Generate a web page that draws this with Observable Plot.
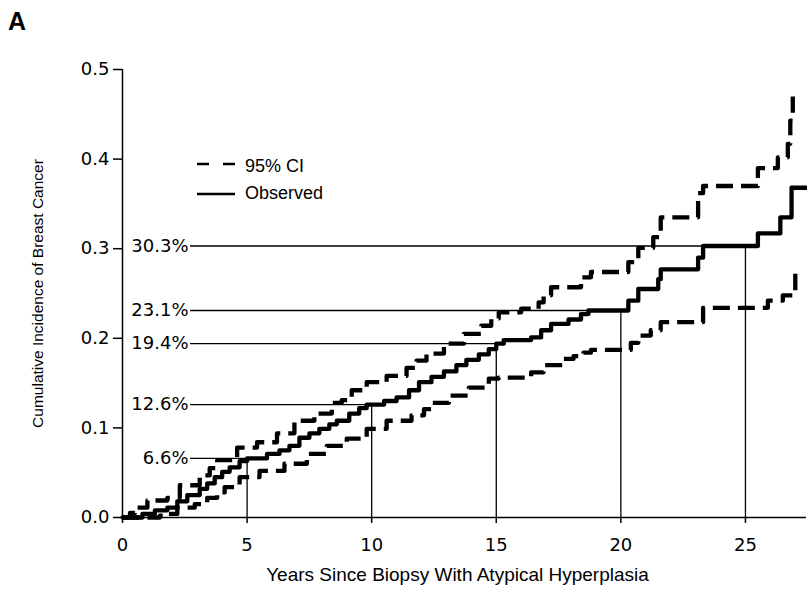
<!DOCTYPE html>
<html><head><meta charset="utf-8">
<script src="https://cdn.jsdelivr.net/npm/d3@7"></script>
<script src="https://cdn.jsdelivr.net/npm/@observablehq/plot@0.6"></script>
<style>body{margin:0;background:#fff;} #chart{width:807px;height:589px;}</style>
</head><body><div id="chart"></div>
<script>
// ---- data ----
const xTicks = [0, 5, 10, 15, 20, 25];
const yTicks = [0, 0.1, 0.2, 0.3, 0.4, 0.5];
const markYears = [5, 10, 15, 20, 25];
const markValues = [0.066, 0.126, 0.194, 0.231, 0.303];
const markLabels = ["6.6%", "12.6%", "19.4%", "23.1%", "30.3%"];

const obsT = [0,0.8,1.3,1.8,2.2,2.6,3.1,3.4,3.7,4.0,4.3,4.7,5.0,5.8,6.3,6.7,7.1,7.5,7.9,8.3,8.6,9.1,9.5,9.8,10.5,11.0,11.5,11.9,12.4,12.9,13.4,13.8,14.3,14.7,15.0,15.3,16.4,16.8,17.2,17.9,18.4,18.7,20.3,20.7,21.5,21.6,23.1,23.3,25.5,26.4,26.85,27.45];
const obsV = [0,0.004,0.008,0.011,0.018,0.025,0.032,0.038,0.045,0.051,0.056,0.063,0.066,0.071,0.075,0.080,0.089,0.094,0.099,0.104,0.108,0.116,0.122,0.126,0.130,0.134,0.142,0.151,0.157,0.163,0.170,0.176,0.182,0.188,0.194,0.198,0.201,0.209,0.216,0.221,0.227,0.231,0.242,0.255,0.266,0.277,0.290,0.303,0.317,0.335,0.368,0.368];

const upT = [0,0.3,0.5,1.0,1.8,2.3,3.1,3.5,3.8,4.6,5.4,6.2,6.9,7.7,8.4,8.8,9.2,9.8,10.6,11.4,11.8,12.2,12.9,13.7,14.4,14.8,15.1,16.0,16.7,16.9,17.2,18.4,18.8,20.3,20.7,21.3,21.6,23.1,23.3,25.5,26.3,26.7,26.8,26.9];
const upV = [0,0.005,0.011,0.019,0.022,0.036,0.047,0.055,0.064,0.078,0.084,0.094,0.108,0.116,0.128,0.131,0.142,0.151,0.158,0.167,0.175,0.183,0.194,0.205,0.214,0.222,0.229,0.233,0.240,0.248,0.257,0.268,0.274,0.285,0.301,0.313,0.335,0.362,0.370,0.390,0.402,0.417,0.443,0.470];

const loT = [0,1.5,1.8,2.2,2.9,3.4,3.8,4.1,4.7,5.5,6.5,7.4,8.2,9.0,9.8,10.6,11.6,12.1,12.4,13.1,13.9,14.7,15.1,16.4,16.9,17.7,18.1,18.5,18.8,20.4,20.7,21.2,21.6,23.3,25.9,26.5,27.0];
const loV = [0,0.002,0.004,0.011,0.015,0.022,0.028,0.034,0.045,0.052,0.060,0.071,0.080,0.088,0.099,0.108,0.114,0.121,0.128,0.136,0.145,0.155,0.156,0.162,0.170,0.177,0.180,0.184,0.187,0.195,0.203,0.209,0.218,0.234,0.242,0.248,0.272];

// ---- build tables ----
const zip = (T, V) => T.map((t, i) => ({t, v: V[i]}));
const obs = zip(obsT, obsV), up = zip(upT, upV), lo = zip(loT, loV);
const marks = markYears.map((yr, i) => ({yr, v: markValues[i], label: markLabels[i]}));
const labelStart = 2.73; // year where the annotation leader lines begin

const numFont = "DejaVu Sans";
const titleFont = "'Liberation Sans', Arial, sans-serif";

const plot = Plot.plot({
  width: 807, height: 589,
  marginLeft: 122, marginRight: 1, marginTop: 69, marginBottom: 72,
  style: {fontFamily: numFont, fontSize: "18px", color: "black", background: "white"},
  x: {domain: [0, 27.45]},
  y: {domain: [0, 0.5]},
  marks: [
    Plot.ruleY(marks, {y: "v", x1: () => labelStart, x2: "yr", strokeWidth: 1.3}),
    Plot.ruleX(marks, {x: "yr", y1: () => 0, y2: "v", strokeWidth: 1.3}),
    Plot.text(marks, {x: () => labelStart, y: "v", text: "label", textAnchor: "end", dx: -2, fontFamily: numFont, fontSize: 18}),
    Plot.line(lo, {x: "t", y: "v", curve: "step-after", stroke: "black", strokeWidth: 4.3, strokeDasharray: "17,8", strokeLinecap: "butt"}),
    Plot.line(up, {x: "t", y: "v", curve: "step-after", stroke: "black", strokeWidth: 4.3, strokeDasharray: "17,8", strokeLinecap: "butt"}),
    Plot.line(obs, {x: "t", y: "v", curve: "step-after", stroke: "black", strokeWidth: 4.3}),
    Plot.ruleX([0], {strokeWidth: 1.5}),
    Plot.ruleY([0], {strokeWidth: 1.5}),
    Plot.axisX({ticks: xTicks, tickSize: 6, tickPadding: 15, label: null, fontSize: 18, strokeWidth: 1.5}),
    Plot.axisY({ticks: yTicks, tickFormat: d3.format(".1f"), tickSize: 9, tickPadding: 4, label: null, fontSize: 18, strokeWidth: 1.5}),
    Plot.text(["Years Since Biopsy With Atypical Hyperplasia"], {frameAnchor: "bottom", dy: 63, dx: -7, text: d => d, fontFamily: titleFont, fontSize: 19}),
    Plot.text(["Cumulative Incidence of Breast Cancer"], {frameAnchor: "left", textAnchor: "middle", dx: -84, rotate: -90, text: d => d, fontFamily: titleFont, fontSize: 15.5})
  ]
});

// panel letter and legend
const svg = d3.select(plot);
svg.append("text").attr("x", 8).attr("y", 30).attr("text-anchor", "start").attr("font-family", "Liberation Sans").attr("font-weight", "bold").attr("font-size", 25).text("A");
const lg = svg.append("g").attr("text-anchor", "start");
lg.append("line").attr("x1", 197).attr("x2", 235).attr("y1", 164).attr("y2", 164).attr("stroke", "black").attr("stroke-width", 2.5).attr("stroke-dasharray", "12,14");
lg.append("text").attr("x", 245).attr("y", 166).attr("dy", "0.35em").attr("font-family", titleFont).attr("font-size", 18).text("95% CI");
lg.append("line").attr("x1", 197).attr("x2", 235).attr("y1", 194).attr("y2", 194).attr("stroke", "black").attr("stroke-width", 2.5);
lg.append("text").attr("x", 245).attr("y", 193).attr("dy", "0.35em").attr("font-family", titleFont).attr("font-size", 18).text("Observed");

document.getElementById("chart").appendChild(plot);
</script>
</body></html>
